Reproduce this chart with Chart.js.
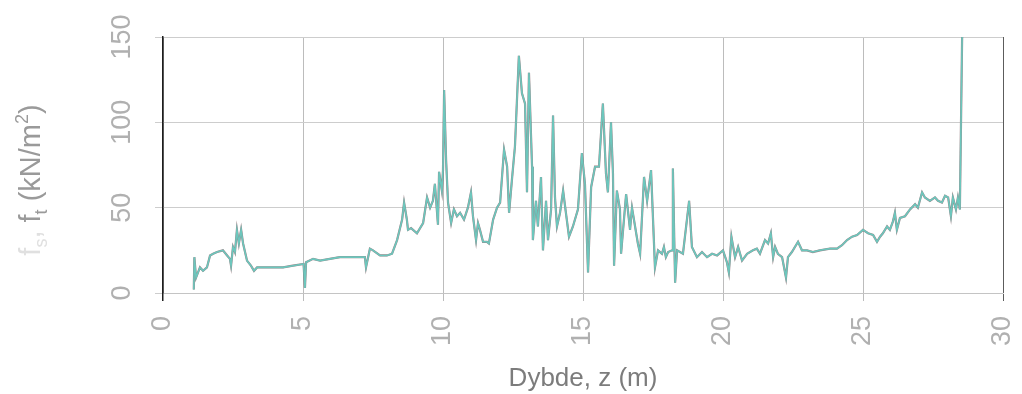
<!DOCTYPE html>
<html>
<head>
<meta charset="utf-8">
<title>Friction profile</title>
<script src="https://cdn.jsdelivr.net/npm/chart.js@4.4.0/dist/chart.umd.min.js"></script>
<style>
  html, body { margin: 0; padding: 0; background: #fff; }
  #wrap { width: 1022px; height: 394px; }
</style>
</head>
<body>
<div id="wrap"><canvas id="frictionChart" width="1022" height="394"></canvas></div>
<script>
// Depth below ground, z (m)
var depth = [
    1.10, 1.12, 1.18, 1.32, 1.43, 1.57, 1.68, 1.79, 1.93, 2.14,
    2.29, 2.39, 2.43, 2.50, 2.57, 2.64, 2.71, 2.79, 2.86, 3.00,
    3.14, 3.25, 3.36, 3.57, 3.93, 4.29, 4.64, 5.02, 5.07, 5.11,
    5.36, 5.61, 5.96, 6.32, 6.68, 7.04, 7.21, 7.25, 7.39, 7.50,
    7.75, 8.00, 8.18, 8.36, 8.54, 8.61, 8.71, 8.75, 8.86, 9.07,
    9.29, 9.43, 9.54, 9.64, 9.71, 9.82, 9.86, 9.96, 10.00, 10.04,
    10.11, 10.18, 10.29, 10.39, 10.50, 10.61, 10.75, 10.89, 11.00, 11.07,
    11.18, 11.25, 11.32, 11.43, 11.57, 11.64, 11.79, 11.93, 12.04, 12.18,
    12.29, 12.36, 12.46, 12.57, 12.71, 12.82, 12.93, 13.00, 13.07, 13.18,
    13.21, 13.32, 13.39, 13.50, 13.57, 13.68, 13.75, 13.86, 13.93, 14.00,
    14.07, 14.18, 14.29, 14.39, 14.50, 14.64, 14.82, 14.96, 15.07, 15.18,
    15.29, 15.43, 15.57, 15.71, 15.82, 15.89, 16.00, 16.07, 16.11, 16.21,
    16.32, 16.36, 16.54, 16.68, 16.75, 16.96, 17.04, 17.18, 17.29, 17.43,
    17.57, 17.68, 17.82, 17.89, 17.96, 18.04, 18.18, 18.21, 18.29, 18.36,
    18.57, 18.79, 18.89, 19.07, 19.25, 19.43, 19.61, 19.79, 20.00, 20.14,
    20.21, 20.30, 20.43, 20.54, 20.68, 20.86, 21.07, 21.21, 21.32, 21.50,
    21.61, 21.71, 21.79, 21.86, 21.96, 22.11, 22.25, 22.32, 22.46, 22.68,
    22.82, 23.00, 23.21, 23.46, 23.82, 24.07, 24.25, 24.43, 24.61, 24.79,
    25.00, 25.18, 25.36, 25.50, 25.61, 25.71, 25.86, 25.96, 26.07, 26.14,
    26.21, 26.32, 26.50, 26.68, 26.86, 26.96, 27.11, 27.21, 27.39, 27.57,
    27.68, 27.82, 27.93, 28.04, 28.14, 28.21, 28.32, 28.39, 28.46, 28.54
];

// Sleeve friction fs (kN/m2)
var fsValues = [
    2, 21, 9, 15, 13, 15, 22, 23, 24, 25,
    22, 20, 16, 27, 24, 37, 29, 37, 29, 19,
    16, 13, 15, 15, 15, 15, 16, 17, 3, 18,
    20, 19, 20, 21, 21, 21, 21, 15, 26, 25,
    22, 22, 23, 31, 43, 53, 43, 37, 38, 35,
    41, 56, 50, 54, 64, 40, 71, 60, 72, 119,
    78, 53, 41, 49, 45, 47, 43, 50, 59, 45,
    31, 41, 37, 30, 30, 29, 43, 50, 53, 84,
    74, 47, 66, 86, 139, 117, 111, 59, 129, 74,
    31, 54, 39, 68, 25, 54, 31, 49, 104, 56,
    39, 47, 60, 47, 33, 39, 49, 82, 64, 12,
    62, 74, 74, 111, 70, 59, 100, 70, 16, 60,
    49, 23, 58, 37, 50, 29, 23, 68, 54, 72,
    15, 25, 23, 27, 21, 24, 25, 73, 6, 25,
    23, 54, 27, 21, 24, 21, 23, 22, 25, 18,
    12, 33, 21, 27, 19, 23, 25, 26, 23, 31,
    29, 35, 21, 27, 23, 21, 9, 21, 24, 30,
    25, 25, 24, 25, 26, 26, 28, 31, 33, 34,
    37, 35, 34, 30, 33, 35, 39, 37, 42, 47,
    37, 44, 45, 49, 52, 50, 59, 56, 54, 56,
    54, 53, 57, 56, 45, 56, 49, 56, 49, 150
];

// Total friction ft follows fs at this scale
var ftValues = fsValues.slice();

// Axis ticks
var depthTicks = [0, 5, 10, 15, 20, 25, 30];
var frictionTicks = [0, 50, 100, 150];

var fontFamily = '"Liberation Sans", Arial, Helvetica, sans-serif';

function toPoints(xs, ys) {
    var pts = [];
    for (var i = 0; i < xs.length; i++) {
        pts.push({x: xs[i], y: ys[i]});
    }
    return pts;
}

// Vertical axis title with sub- and superscripts
var yTitlePlugin = {
    id: 'yTitle',
    afterDraw: function(chart) {
        var ctx = chart.ctx;
        var faint = '#e0e0e0';
        var grey = '#9a9a9a';
        var parts = [
            {text: 'f', size: 29, color: faint, shift: 0},
            {text: 's', size: 18, color: faint, shift: 7},
            {text: ', ', size: 29, color: faint, shift: 0},
            {text: 'f', size: 29, color: grey, shift: 0},
            {text: 't', size: 18, color: grey, shift: 7},
            {text: ' (kN/m', size: 29, color: grey, shift: 0},
            {text: '2', size: 18, color: grey, shift: -12},
            {text: ')', size: 29, color: grey, shift: 0}
        ];
        ctx.save();
        var total = 0;
        parts.forEach(function(p) {
            ctx.font = p.size + 'px ' + fontFamily;
            p.w = ctx.measureText(p.text).width;
            total += p.w;
        });
        ctx.translate(40, 180);
        ctx.rotate(-Math.PI / 2);
        ctx.textBaseline = 'alphabetic';
        ctx.textAlign = 'left';
        var pos = -total / 2;
        parts.forEach(function(p) {
            ctx.font = p.size + 'px ' + fontFamily;
            ctx.fillStyle = p.color;
            ctx.fillText(p.text, pos, p.shift);
            pos += p.w;
        });
        ctx.restore();
    }
};

new Chart(document.getElementById('frictionChart'), {
    type: 'line',
    data: {
        datasets: [
            {
                label: 'fs',
                data: toPoints(depth, fsValues),
                borderColor: '#6cc7bd',
                borderWidth: 1.6,
                pointRadius: 0,
                tension: 0,
                fill: false,
                order: 1
            },
            {
                label: 'ft',
                data: toPoints(depth, ftValues),
                borderColor: 'rgba(120, 90, 95, 0.75)',
                borderWidth: 2.2,
                pointRadius: 0,
                tension: 0,
                fill: false,
                order: 2
            }
        ]
    },
    options: {
        responsive: false,
        animation: false,
        events: [],
        layout: {padding: {top: 37, right: 19, left: 0, bottom: 0}},
        plugins: {
            legend: {display: false},
            tooltip: {enabled: false}
        },
        scales: {
            x: {
                type: 'linear',
                min: 0,
                max: 30,
                afterBuildTicks: function(scale) {
                    scale.ticks = depthTicks.map(function(v) { return {value: v}; });
                },
                afterFit: function(scale) {
                    scale.height = 101;
                    scale.paddingLeft = 0;
                    scale.paddingRight = 0;
                },
                grid: {
                    color: function(c) {
                        if (c.tick && c.tick.value === 0) return '#1e1e1e';
                        if (c.tick && c.tick.value === 30) return '#5c5c5c';
                        return '#bcbcbc';
                    },
                    lineWidth: function(c) {
                        return c.tick && c.tick.value === 0 ? 1.5 : 1;
                    },
                    tickLength: 8
                },
                border: {color: '#c4c4c4', width: 1},
                ticks: {
                    minRotation: 90,
                    maxRotation: 90,
                    padding: 15,
                    color: '#b0b0b0',
                    font: {family: fontFamily, size: 27}
                },
                title: {
                    display: true,
                    text: 'Dybde, z (m)',
                    color: '#7c7c7c',
                    font: {family: fontFamily, size: 26},
                    padding: {top: 0, bottom: 0}
                }
            },
            y: {
                min: 0,
                max: 150,
                afterBuildTicks: function(scale) {
                    scale.ticks = frictionTicks.map(function(v) { return {value: v}; });
                },
                afterFit: function(scale) {
                    scale.width = 163;
                    scale.paddingTop = 0;
                    scale.paddingBottom = 0;
                },
                grid: {
                    color: '#cdcdcd',
                    tickLength: 8
                },
                border: {color: '#1e1e1e', width: 1.5},
                ticks: {
                    minRotation: 90,
                    maxRotation: 90,
                    crossAlign: 'center',
                    padding: 10,
                    color: '#b0b0b0',
                    font: {family: fontFamily, size: 27}
                }
            }
        }
    },
    plugins: [yTitlePlugin]
});
</script>
</body>
</html>
